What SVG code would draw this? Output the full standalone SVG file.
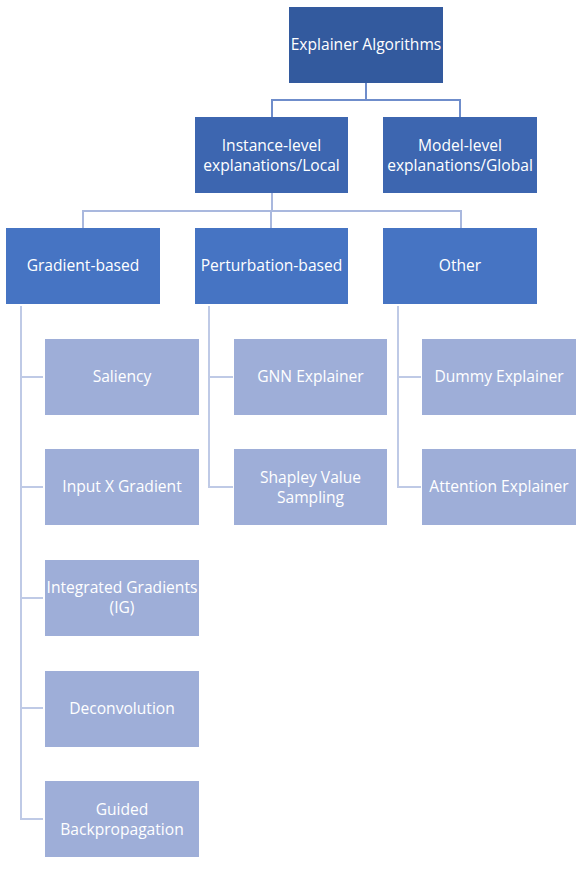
<svg xmlns="http://www.w3.org/2000/svg" width="584" height="871" viewBox="0 0 584 871">
<style>
text{font-family:"Open Sans",Lato,"Liberation Sans",sans-serif;font-size:15.6px;fill:#fff;text-anchor:middle;dominant-baseline:central}
.l0{fill:#335A9E}
.l1{fill:#3D66B0}
.l2{fill:#4674C3}
.l3{fill:#9EAED8}
.c1{stroke:#6F8DCB;stroke-width:2;fill:none}
.c2{stroke:#A9B8DE;stroke-width:2;fill:none}
.c3{stroke:#BFCAE6;stroke-width:2;fill:none}
</style>
<rect width="584" height="871" fill="#fff"/>
<g id="connectors">
<path class="c1" d="M366 83 V100 M272 100 H460 M272 99 V117 M460 99 V117"/>
<path class="c2" d="M272 193 V211 M83 211 H461 M83 210 V228 M271 210 V228 M461 210 V228"/>
<path class="c3" d="M21 306 V819 H43 M21 377 H43 M21 487 H43 M21 598 H43 M21 708 H43"/>
<path class="c3" d="M209 306 V487 H233 M209 377 H233"/>
<path class="c3" d="M398 306 V487 H421 M398 377 H421"/>
</g>
<g id="root"><rect class="l0" x="289" y="7" width="154" height="76"/><text x="366" y="44">Explainer Algorithms</text></g>
<g id="instance"><rect class="l1" x="195" y="117" width="153" height="76"/><text x="271.5" y="145">Instance-level</text><text x="271.5" y="165">explanations/Local</text></g>
<g id="model"><rect class="l1" x="383" y="117" width="154" height="76"/><text x="460" y="145">Model-level</text><text x="460" y="165">explanations/Global</text></g>
<g id="gradient"><rect class="l2" x="6" y="228" width="154" height="76"/><text x="83" y="265">Gradient-based</text></g>
<g id="perturbation"><rect class="l2" x="195" y="228" width="153" height="76"/><text x="271.5" y="265">Perturbation-based</text></g>
<g id="other"><rect class="l2" x="383" y="228" width="154" height="76"/><text x="460" y="265">Other</text></g>
<g id="saliency"><rect class="l3" x="45" y="339" width="154" height="76"/><text x="122" y="376">Saliency</text></g>
<g id="inputxgradient"><rect class="l3" x="45" y="449" width="154" height="76"/><text x="122" y="486">Input X Gradient</text></g>
<g id="ig"><rect class="l3" x="45" y="560" width="154" height="76"/><text x="122" y="587">Integrated Gradients</text><text x="122" y="607">(IG)</text></g>
<g id="deconvolution"><rect class="l3" x="45" y="671" width="154" height="76"/><text x="122" y="708">Deconvolution</text></g>
<g id="guided"><rect class="l3" x="45" y="781" width="154" height="76"/><text x="122" y="809">Guided</text><text x="122" y="829">Backpropagation</text></g>
<g id="gnn"><rect class="l3" x="234" y="339" width="153" height="76"/><text x="310.5" y="376">GNN Explainer</text></g>
<g id="shapley"><rect class="l3" x="234" y="449" width="153" height="76"/><text x="310.5" y="477">Shapley Value</text><text x="310.5" y="497">Sampling</text></g>
<g id="dummy"><rect class="l3" x="422" y="339" width="154" height="76"/><text x="499" y="376">Dummy Explainer</text></g>
<g id="attention"><rect class="l3" x="422" y="449" width="154" height="76"/><text x="499" y="486">Attention Explainer</text></g>
</svg>
